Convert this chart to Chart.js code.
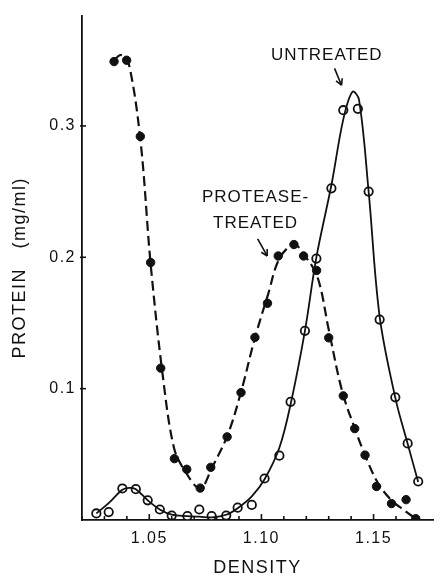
<!DOCTYPE html>
<html>
<head>
<meta charset="utf-8">
<script src="https://cdn.jsdelivr.net/npm/chart.js@4.4.1/dist/chart.umd.min.js"></script>
<style>
  html, body { margin: 0; padding: 0; background: #fff; }
  #wrap { width: 442px; height: 577px; }
</style>
</head>
<body>
<div id="wrap"><canvas id="densityChart" width="442" height="577"></canvas></div>
<script>
// ---- data ----
// untreated: measured fractions (open circles)
const untreatedDensity = [1.0264, 1.0319, 1.038, 1.044, 1.0493, 1.0547, 1.060, 1.067, 1.0723, 1.0778, 1.0843, 1.0894, 1.0957, 1.1014, 1.108, 1.113, 1.1194, 1.1245, 1.1312, 1.1365, 1.143, 1.1478, 1.1527, 1.1597, 1.1652, 1.1699];
const untreatedProtein = [0.005, 0.006, 0.024, 0.0235, 0.015, 0.008, 0.0034, 0.003, 0.008, 0.003, 0.0034, 0.0094, 0.0115, 0.0316, 0.049, 0.090, 0.144, 0.199, 0.2525, 0.312, 0.313, 0.250, 0.1526, 0.0934, 0.0583, 0.0293];

// protease-treated: measured fractions (filled circles)
const treatedDensity = [1.0343, 1.0399, 1.046, 1.0506, 1.0551, 1.0612, 1.0667, 1.0727, 1.0774, 1.0847, 1.0909, 1.0971, 1.1027, 1.1075, 1.1145, 1.1188, 1.1246, 1.130, 1.1365, 1.1416, 1.1462, 1.1513, 1.158, 1.1645, 1.1688];
const treatedProtein = [0.349, 0.350, 0.292, 0.196, 0.1156, 0.0467, 0.0386, 0.0243, 0.0401, 0.0633, 0.097, 0.139, 0.165, 0.201, 0.2097, 0.201, 0.190, 0.1387, 0.0945, 0.0696, 0.0494, 0.0255, 0.0125, 0.0155, 0.001];

// hand-drawn smooth curves
const untreatedCurveX = [1.0264, 1.032, 1.038, 1.041, 1.044, 1.0493, 1.0547, 1.060, 1.067, 1.0723, 1.078, 1.0843, 1.0894, 1.0957, 1.1014, 1.108, 1.113, 1.1194, 1.1245, 1.1312, 1.1365, 1.1406, 1.1435, 1.1478, 1.1527, 1.1597, 1.1652, 1.1699];
const untreatedCurveY = [0.005, 0.013, 0.023, 0.0245, 0.0235, 0.015, 0.008, 0.004, 0.003, 0.0025, 0.002, 0.004, 0.009, 0.018, 0.031, 0.055, 0.088, 0.144, 0.200, 0.255, 0.305, 0.326, 0.320, 0.250, 0.155, 0.093, 0.058, 0.029];
const treatedCurveX = [1.0343, 1.0372, 1.0405, 1.046, 1.0506, 1.056, 1.061, 1.066, 1.0727, 1.078, 1.085, 1.091, 1.097, 1.103, 1.108, 1.1145, 1.119, 1.125, 1.130, 1.136, 1.142, 1.147, 1.152, 1.158, 1.164, 1.1688];
const treatedCurveY = [0.350, 0.354, 0.350, 0.290, 0.195, 0.110, 0.055, 0.037, 0.024, 0.040, 0.065, 0.098, 0.138, 0.172, 0.199, 0.2097, 0.202, 0.185, 0.145, 0.098, 0.068, 0.046, 0.028, 0.015, 0.007, 0.001];

// axis tick labels
const xTickLabels = ["1.05", "1.10", "1.15"];
const yTickLabels = ["0.1", "0.2", "0.3"];

const FONT = "'Liberation Sans', Arial, sans-serif";

function pts(xs, ys) {
  return xs.map((x, i) => ({ x: x, y: ys[i] }));
}

// typewriter-ish spacing for axis text (scales are drawn before the datasets)
const spacingPlugin = {
  id: "spacing",
  beforeDraw(chart) { chart.ctx.letterSpacing = "1.5px"; },
  beforeDatasetsDraw(chart) { chart.ctx.letterSpacing = "0px"; },
};

// tick marks + free text annotations
const decorPlugin = {
  id: "decor",
  afterDatasetsDraw(chart) {
    const { ctx, scales } = chart;
    const xs = scales.x, ys = scales.y;
    const y0 = ys.getPixelForValue(0);
    const xl = xs.getPixelForValue(xs.min);

    ctx.save();
    ctx.strokeStyle = "#111";
    ctx.lineWidth = 1.6;

    // small inward ticks every 0.01 on density axis
    for (let k = 102; k <= 117; k++) {
      const v = k / 100;
      const px = xs.getPixelForValue(v);
      const big = xTickLabels.includes(v.toFixed(2));
      ctx.beginPath();
      ctx.moveTo(px, y0);
      ctx.lineTo(px, y0 - (big ? 6 : 4));
      ctx.stroke();
    }
    // small ticks on protein axis
    yTickLabels.forEach((t) => {
      const py = ys.getPixelForValue(parseFloat(t));
      ctx.beginPath();
      ctx.moveTo(xl - 2, py);
      ctx.lineTo(xl + 4, py);
      ctx.stroke();
    });

    // labels
    ctx.fillStyle = "#111";
    ctx.font = "17px " + FONT;
    ctx.textAlign = "center";
    ctx.textBaseline = "middle";
    ctx.letterSpacing = "1px";
    ctx.fillText("UNTREATED", xs.getPixelForValue(1.1291), ys.getPixelForValue(0.3536));
    ctx.fillText("PROTEASE-", xs.getPixelForValue(1.0974), ys.getPixelForValue(0.2457));
    ctx.fillText("TREATED", xs.getPixelForValue(1.0974), ys.getPixelForValue(0.226));

    // arrows
    const arrow = (x1, y1, x2, y2) => {
      const ax = xs.getPixelForValue(x1), ay = ys.getPixelForValue(y1);
      const bx = xs.getPixelForValue(x2), by = ys.getPixelForValue(y2);
      const ang = Math.atan2(by - ay, bx - ax);
      ctx.beginPath();
      ctx.moveTo(ax, ay);
      ctx.lineTo(bx, by);
      ctx.stroke();
      ctx.beginPath();
      ctx.moveTo(bx, by);
      ctx.lineTo(bx - 7 * Math.cos(ang - 0.5), by - 7 * Math.sin(ang - 0.5));
      ctx.moveTo(bx, by);
      ctx.lineTo(bx - 7 * Math.cos(ang + 0.5), by - 7 * Math.sin(ang + 0.5));
      ctx.stroke();
    };
    arrow(1.1326, 0.3438, 1.1357, 0.331);
    arrow(1.0983, 0.214, 1.1026, 0.201);
    ctx.restore();
  },
};

const ctx = document.getElementById("densityChart");
new Chart(ctx, {
  type: "scatter",
  data: {
    datasets: [
      {
        label: "untreated curve",
        data: pts(untreatedCurveX, untreatedCurveY),
        showLine: true,
        borderColor: "#111",
        borderWidth: 1.8,
        pointRadius: 0,
        tension: 0.35,
      },
      {
        label: "treated curve",
        data: pts(treatedCurveX, treatedCurveY),
        showLine: true,
        borderColor: "#111",
        borderWidth: 2.2,
        borderDash: [10, 5],
        pointRadius: 0,
        tension: 0.35,
      },
      {
        label: "Untreated",
        data: pts(untreatedDensity, untreatedProtein),
        showLine: false,
        pointRadius: 4.2,
        pointBackgroundColor: "#fff",
        pointBorderColor: "#111",
        pointBorderWidth: 1.8,
      },
      {
        label: "Protease-treated",
        data: pts(treatedDensity, treatedProtein),
        showLine: false,
        pointRadius: 4.2,
        pointBackgroundColor: "#111",
        pointBorderColor: "#111",
        pointBorderWidth: 1,
      },
    ],
  },
  options: {
    responsive: false,
    animation: false,
    layout: { padding: { top: 12, right: 0, bottom: 0, left: 0 } },
    plugins: {
      legend: { display: false },
      tooltip: { enabled: false },
    },
    scales: {
      x: {
        type: "linear",
        min: 1.02,
        max: 1.1765,
        afterFit(scale) { scale.height = 57; },
        border: { display: true, color: "#111", width: 1.8 },
        grid: { display: false, drawTicks: false },
        ticks: {
          stepSize: 0.01,
          padding: 9,
          color: "#111",
          font: { family: FONT, size: 16 },
          maxRotation: 0,
          autoSkip: false,
          callback: (v) => {
            const s = Number(v).toFixed(2);
            return xTickLabels.includes(s) && Math.abs(v - parseFloat(s)) < 1e-6 ? s : "";
          },
        },
        title: {
          display: true,
          text: "DENSITY",
          color: "#111",
          font: { family: FONT, size: 18, lineHeight: 1 },
          padding: { top: 0, bottom: 0 },
        },
      },
      y: {
        type: "linear",
        min: 0,
        max: 0.384,
        afterFit(scale) { scale.width = 82; },
        border: { display: true, color: "#111", width: 1.8 },
        grid: { display: false, drawTicks: false },
        ticks: {
          stepSize: 0.1,
          padding: 6,
          color: "#111",
          font: { family: FONT, size: 16 },
          callback: (v) => {
            const s = Number(v).toFixed(1);
            return yTickLabels.includes(s) && Math.abs(v - parseFloat(s)) < 1e-6 ? s : "";
          },
        },
        title: {
          display: true,
          text: "PROTEIN   (mg/ml)",
          color: "#111",
          font: { family: FONT, size: 18, lineHeight: 1.2 },
          padding: { top: 9, bottom: 0 },
        },
      },
    },
  },
  plugins: [spacingPlugin, decorPlugin],
});
</script>
</body>
</html>
